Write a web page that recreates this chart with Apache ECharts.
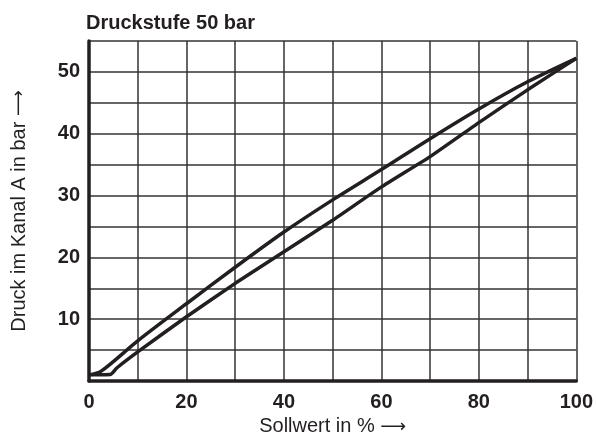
<!DOCTYPE html>
<html>
<head>
<meta charset="utf-8">
<script src="https://cdn.jsdelivr.net/npm/echarts@6/dist/echarts.min.js"></script>
<style>
  html, body { margin: 0; padding: 0; background: #fff; }
  #chart { width: 596px; height: 445px; }
</style>
</head>
<body>
<div id="chart"></div>
<script>
// Sollwert in %
let risingX = [0, 4.5, 5.7, 10, 20, 30, 40, 50, 60, 70, 80, 90, 100]
// Druck in bar, Kennlinie steigend (untere Kurve)
let risingY = [1.0, 1.1, 2.1, 4.7, 10.4, 15.8, 20.9, 26.0, 31.4, 36.3, 41.8, 47.1, 52.2]

let fallingX = [0, 2.5, 10, 20, 30, 40, 50, 60, 70, 80, 90, 100]
// obere Kurve
let fallingY = [1.0, 1.6, 6.5, 12.5, 18.4, 24.1, 29.3, 34.2, 39.2, 44.0, 48.4, 52.2]

let xTicks = [0, 20, 40, 60, 80, 100]
let yTicks = [10, 20, 30, 40, 50]

const ink = '#231f20'
const font = 'Liberation Sans'

function pairs(xs, ys) {
  return xs.map((x, i) => [x, ys[i]])
}

// langer Pfeil aus DejaVu
const nameStyle = {
  color: ink,
  fontFamily: font,
  fontSize: 20,
  rich: {
    t: { color: ink, fontFamily: font, fontSize: 20 },
    a: { color: ink, fontFamily: 'DejaVu Sans', fontSize: 18 }
  }
}

const chart = echarts.init(document.getElementById('chart'))
chart.setOption({
  backgroundColor: '#fff',
  animation: false,
  title: {
    text: 'Druckstufe 50 bar',
    left: 81,
    top: 8,
    textStyle: { color: ink, fontFamily: font, fontWeight: 'bold', fontSize: 20 }
  },
  grid: { left: 89, right: 19, top: 41, bottom: 64 },
  xAxis: {
    type: 'value',
    min: 0,
    max: 100,
    interval: 10,
    name: '{t|Sollwert in % }{a|⟶}',
    nameLocation: 'middle',
    nameGap: 28,
    nameTextStyle: nameStyle,
    axisLine: { show: true, onZero: false, lineStyle: { color: ink, width: 3.5 } },
    axisTick: { show: false },
    axisLabel: {
      margin: 11,
      color: ink,
      fontFamily: font,
      fontWeight: 'bold',
      fontSize: 20,
      formatter: (v) => (xTicks.includes(v) ? String(v) : '')
    },
    splitLine: { show: true, lineStyle: { color: '#333', width: 1.5 } }
  },
  yAxis: {
    type: 'value',
    min: 0,
    max: 55,
    interval: 5,
    name: '{t|Druck im Kanal A in bar }{a|⟶}',
    nameLocation: 'middle',
    nameGap: 60,
    nameTextStyle: nameStyle,
    axisLine: { show: true, onZero: false, lineStyle: { color: ink, width: 3.5 } },
    axisTick: { show: false },
    axisLabel: {
      margin: 9,
      color: ink,
      fontFamily: font,
      fontWeight: 'bold',
      fontSize: 20,
      formatter: (v) => (yTicks.includes(v) ? String(v) : '')
    },
    splitLine: { show: true, lineStyle: { color: '#333', width: 1.5 } }
  },
  series: [
    {
      name: 'steigend',
      type: 'line',
      symbol: 'none',
      smooth: 0.15,
      lineStyle: { color: ink, width: 3.5 },
      data: pairs(risingX, risingY)
    },
    {
      name: 'fallend',
      type: 'line',
      symbol: 'none',
      smooth: 0.3,
      lineStyle: { color: ink, width: 3.5 },
      data: pairs(fallingX, fallingY)
    }
  ]
})
</script>
</body>
</html>
